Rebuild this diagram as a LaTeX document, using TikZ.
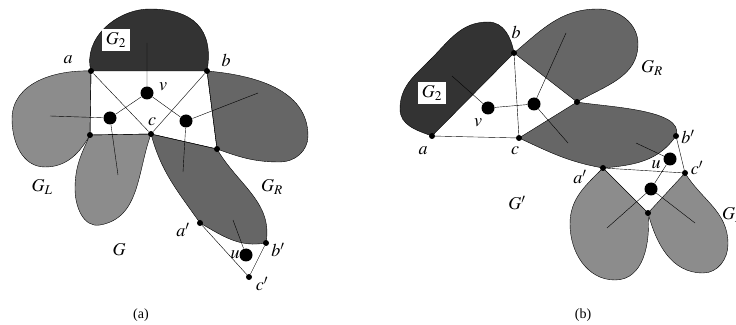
\documentclass[tikz,border=0pt]{standalone}
\usepackage{mathptmx}
\usepackage{fontspec}
\setmainfont{Liberation Serif}
\usetikzlibrary{positioning}
\definecolor{DarkPart}{RGB}{51,51,51}
\definecolor{MidPart}{RGB}{102,102,102}
\definecolor{LightPart}{RGB}{140,140,140}
\pgfdeclarelayer{bg}
\pgfsetlayers{bg,main}
\tikzset{
  vtx/.style={circle,fill=black,inner sep=0pt,minimum size=6pt},
  bigvtx/.style={circle,fill=black,inner sep=0pt,minimum size=13pt},
  darkblob/.style={draw=black,fill=DarkPart},
  midblob/.style={draw=black,fill=MidPart},
  lightblob/.style={draw=black,fill=LightPart},
  lbl/.style={inner sep=1pt,font=\fontsize{18}{20}\selectfont},
  boxlbl/.style={lbl,fill=white,inner sep=3.5pt},
  caption/.style={inner sep=1pt,font=\fontsize{14}{16}\selectfont}
}

\begin{document}
\begin{tikzpicture}[x=1pt,y=1pt,line width=1pt]
          \useasboundingbox (0,0) rectangle (736,324);
          % (a) vertices
          \node[vtx] (a1) at (91,253) {};
          \node[vtx] (b1) at (207,253) {};
          \node[vtx] (c1) at (151,190) {};
          \node[vtx] (d1) at (90,189) {};
          \node[vtx] (e1) at (217,175) {};
          \node[bigvtx] (v1) at (147,231) {};
          \node[bigvtx] (p1) at (110,206) {};
          \node[bigvtx] (q1) at (186,203) {};
          \node[vtx] (ap1) at (200,101) {};
          \node[vtx] (bp1) at (266,81) {};
          \node[vtx] (cp1) at (249,47) {};
          \node[bigvtx] (u1) at (246,69) {};
          \coordinate (v1t) at (147,281);
          \coordinate (p1l) at (50,208);
          \coordinate (p1d) at (118,149);
          \coordinate (q1r) at (258,231);
          \coordinate (q1d) at (183,152);
          \coordinate (u1t) at (233,104);
          % (a) pieces
          \begin{pgfonlayer}{bg}
          \draw[darkblob] (a1.center) to[out=105,in=180] (150,315) to[out=0,in=80,looseness=1.3] (b1.center) -- cycle;
          \draw[lightblob] (a1.center) to[out=178,in=90] (12,205) to[out=270,in=180] (45,157) to[out=0,in=240] (d1.center) -- cycle;
          \draw[lightblob] (d1.center) -- (c1.center) to[out=250,in=10] (100,99) to[out=190,in=270] (75,135) to[out=90,in=245] (d1.center) -- cycle;
          \draw[midblob] (b1.center) -- (e1.center) to[out=-20,in=180] (280,162) to[out=0,in=270] (308,188) to[out=90,in=-5] (b1.center) -- cycle;
          \draw[midblob] (c1.center) -- (e1.center) to[out=-60,in=80] (bp1.center) to[out=190,in=-30] (ap1.center) to[out=125,in=285] (c1.center) -- cycle;
          \end{pgfonlayer}
          % (a) edges
          \draw (a1) -- (d1) (a1) -- (c1) (b1) -- (c1) (b1) -- (e1) (d1) -- (c1) (c1) -- (e1);
          \draw (v1) -- (p1) (v1) -- (q1) (v1) -- (v1t);
          \draw (p1) -- (p1l) (p1) -- (p1d) (q1) -- (q1r) (q1) -- (q1d);
          \draw (ap1) -- (cp1) (bp1) -- (cp1) (u1) -- (u1t);
          % (a) labels
          \node[lbl] (la1) at (68,264) {$a$};
          \node[lbl] (lb1) at (226,264) {$b$};
          \node[lbl] (lc1) at (152,202) {$c$};
          \node[lbl] (lv1) at (163,237) {$v$};
          \node[boxlbl] (lG21) at (116,284) {$G_2$};
          \node[lbl] (lGL1) at (42,137) {$G_L$};
          \node[lbl] (lGR1) at (272,137) {$G_R$};
          \node[lbl] (lG1) at (119,74) {$G$};
          \node[lbl] (lap1) at (183,94) {$a'$};
          \node[lbl] (lbp1) at (278,74) {$b'$};
          \node[lbl] (lu1) at (235,69) {$u$};
          \node[lbl] (lcp1) at (262,40) {$c'$};
          \node[caption] (capa) at (141,9) {(a)};

          % (b) vertices
          \node[vtx] (a2) at (432,188) {};
          \node[vtx] (b2) at (514,271) {};
          \node[vtx] (c2) at (519,186) {};
          \node[vtx] (f2) at (577,222) {};
          \node[bigvtx] (v2) at (488,216) {};
          \node[bigvtx] (w2) at (534,220) {};
          \node[vtx] (ap2) at (603,156) {};
          \node[vtx] (bp2) at (676,188) {};
          \node[vtx] (cp2) at (685,151) {};
          \node[bigvtx] (u2) at (670,165) {};
          \node[bigvtx] (x2) at (651,135) {};
          \node[vtx] (g2) at (648,111) {};
          \coordinate (v2e) at (452,248);
          \coordinate (w2t) at (566,291);
          \coordinate (w2d) at (568,181);
          \coordinate (u2e) at (636,181);
          \coordinate (x2l) at (607,96);
          \coordinate (x2r) at (695,101);
          % (b) pieces
          \begin{pgfonlayer}{bg}
          \draw[darkblob] (a2.center) -- (b2.center) to[out=100,in=0] (488,302) to[out=180,in=45] (430,264) to[out=225,in=90] (400,215) to[out=270,in=160] (a2.center) -- cycle;
          \draw[midblob] (b2.center) -- (f2.center) to[out=30,in=270] (638,280) to[out=90,in=0] (598,315) to[out=180,in=40] (b2.center) -- cycle;
          \draw[midblob] (c2.center) -- (f2.center) to[out=-10,in=70,looseness=0.7] (bp2.center) to[out=235,in=5] (ap2.center) to[out=170,in=-25] (c2.center) -- cycle;
          \draw[lightblob] (ap2.center) -- (g2.center) to[out=-85,in=0] (615,44) to[out=180,in=270] (570,100) to[out=90,in=225] (ap2.center) -- cycle;
          \draw[lightblob] (cp2.center) -- (g2.center) to[out=-75,in=180] (703,51) to[out=0,in=270] (728,80) to[out=90,in=-58] (cp2.center) -- cycle;
          \end{pgfonlayer}
          % (b) edges
          \draw (a2) -- (c2) (b2) -- (c2) (v2) -- (w2) (v2) -- (v2e);
          \draw (w2) -- (w2t) (w2) -- (w2d);
          \draw (ap2) -- (cp2) (bp2) -- (cp2) (u2) -- (u2e) (u2) -- (x2);
          \draw (x2) -- (x2l) (x2) -- (x2r);
          % (b) labels
          \node[lbl] (la2) at (423,173) {$a$};
          \node[lbl] (lb2) at (516,292) {$b$};
          \node[lbl] (lc2) at (515,173) {$c$};
          \node[lbl] (lv2) at (478,201) {$v$};
          \node[boxlbl] (lG22) at (432,231) {$G_2$};
          \node[lbl] (lGR2) at (652,256) {$G_R$};
          \node[lbl] (lGp2) at (517,121) {$G'$};
          \node[lbl,anchor=west] (lGL2) at (721,109) {$G_L$};
          \node[lbl] (lap2) at (580,147) {$a'$};
          \node[lbl] (lbp2) at (688,187) {$b'$};
          \node[lbl] (lu2) at (656,159) {$u$};
          \node[lbl] (lcp2) at (697,156) {$c'$};
          \node[caption] (capb) at (583,9) {(b)};
        \end{tikzpicture}
\end{document}
